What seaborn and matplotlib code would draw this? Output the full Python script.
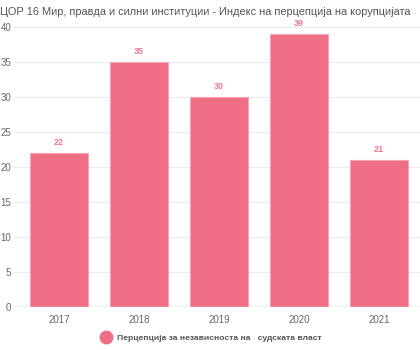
import matplotlib
matplotlib.use("Agg")
import matplotlib.pyplot as plt
import seaborn as sns
import pandas as pd
from matplotlib.lines import Line2D

years = ["2017", "2018", "2019", "2020", "2021"]
values = [22, 35, 30, 39, 21]
series_name = "Перцепција за независноста на   судската власт"
title = "ЦОР 16 Мир, правда и силни институции - Индекс на перцепција на корупцијата"
yticks = [0, 5, 10, 15, 20, 25, 30, 35, 40]

sns.set_theme(style="white")
plt.rcParams['font.family'] = ['Liberation Sans', 'DejaVu Sans']

df = pd.DataFrame({"year": years, "value": values})
color = "#ee6e85"

fig = plt.figure(figsize=(4.2, 3.5), dpi=100)
ax = fig.add_axes([14/420, 43/350, 406/420, 280/350])
sns.barplot(data=df, x="year", y="value", color=color, width=0.725,
            edgecolor="#f7a6b4", linewidth=0.8, saturation=1, ax=ax)
ax.set_xlim(-0.5625, 4.5125)
ax.set_ylim(0, 40)
ax.set_yticks(yticks)
ax.yaxis.grid(True, color="#ebebeb", linewidth=0.8)
ax.set_axisbelow(True)
for s in ax.spines.values():
    s.set_visible(False)
ax.axhline(0, color="#d0d0d0", linewidth=1, zorder=3)
ax.set_xlabel("")
ax.set_ylabel("")
ax.tick_params(axis="y", length=0, labelsize=7, labelcolor="#666666", pad=2)
ax.tick_params(axis="x", length=0, labelsize=7, labelcolor="#666666", pad=6)

for i, v in enumerate(values):
    ax.annotate(str(v), (i, v), xytext=(0, 4.5), textcoords="offset points",
                ha="center", va="bottom", fontsize=6.5, fontweight="bold", color="#f07890")

fig.text(0.0, 0.965, title, fontsize=7.95, color="#555555", ha="left", va="center")

handle = Line2D([], [], marker="o", linestyle="none", markersize=9,
                markerfacecolor=color, markeredgecolor=color)
fig.legend([handle], [series_name], loc="center", bbox_to_anchor=(0.5, 12/350),
           frameon=False, handletextpad=0.3,
           prop={"size": 6.1, "weight": "bold"}, labelcolor="#555555")

fig.savefig("out.png", dpi=100)
